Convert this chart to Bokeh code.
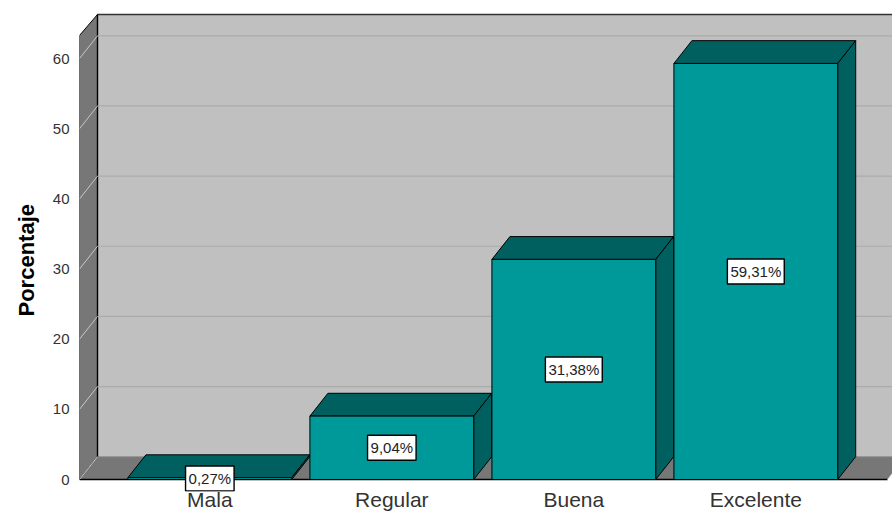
from bokeh.embed import file_html
from bokeh.resources import INLINE
from bokeh.models import FixedTicker, Label, Range1d, Title
from bokeh.plotting import figure

categories = ["Mala", "Regular", "Buena", "Excelente"]
percentages = [0.27, 9.04, 31.38, 59.31]
percent_labels = ["0,27%", "9,04%", "31,38%", "59,31%"]
y_ticks = [0, 10, 20, 30, 40, 50, 60]

BAR_WIDTH = 0.90
DEPTH_X = 18 / 182      # oblique depth in category units
DEPTH_Y = 3.25          # oblique depth in percentage units
Y_TOP = 63.3            # top of the front plane of the box
Y_BACK_TOP = 66.29      # top of the back wall
X_LEFT = -0.716
X_RIGHT = 3.751
X_FLOOR_END = 3.724

WALL = "#C0C0C0"
SIDE = "#777777"
TEAL = "#009999"
TEAL_DARK = "#006060"

# The frame reaches a little below zero so the lowest value box can overhang the floor
p = figure(
    width=892, height=511, frame_width=813, frame_height=481,
    output_backend="svg", toolbar_location=None,
    x_range=Range1d(X_LEFT, X_RIGHT), y_range=Range1d(-1.71, 66.86),
    min_border_left=79, min_border_right=0, min_border_top=10, min_border_bottom=0,
    outline_line_color=None,
)
p.grid.visible = False

# Back wall, with its top edge
p.patch([X_LEFT + DEPTH_X, X_RIGHT + 1, X_RIGHT + 1, X_LEFT + DEPTH_X],
        [DEPTH_Y, DEPTH_Y, Y_BACK_TOP, Y_BACK_TOP],
        fill_color=WALL, line_color=None)
p.line([X_LEFT + DEPTH_X, X_RIGHT + 1], [Y_BACK_TOP, Y_BACK_TOP],
       line_color="#333333", line_width=1.6)

# Left wall and floor
p.patch([X_LEFT, X_LEFT + DEPTH_X, X_LEFT + DEPTH_X, X_LEFT],
        [0, DEPTH_Y, Y_BACK_TOP, Y_TOP],
        fill_color=SIDE, line_color="black", line_width=1)
p.patch([X_LEFT, X_LEFT + DEPTH_X, X_FLOOR_END + DEPTH_X, X_FLOOR_END],
        [0, DEPTH_Y, DEPTH_Y, 0],
        fill_color=SIDE, line_color=None)
p.line([X_LEFT + DEPTH_X, X_RIGHT + 1], [DEPTH_Y, DEPTH_Y], line_color="#8F8F8F", line_width=1)
p.line([X_LEFT + DEPTH_X, X_LEFT + DEPTH_X], [Y_BACK_TOP, DEPTH_Y], line_color="black", line_width=1.4)
p.line([X_LEFT, X_FLOOR_END], [0, 0], line_color="black", line_width=1.4)
p.line([X_FLOOR_END, X_FLOOR_END + DEPTH_X], [0, DEPTH_Y], line_color="#DDDDDD", line_width=1)

# Gridlines on the back wall and their diagonals across the left wall
for tick in y_ticks:
    p.line([X_LEFT, X_LEFT + DEPTH_X], [tick, tick + DEPTH_Y], line_color="#C8C8C8", line_width=1)
for tick in y_ticks[1:]:
    p.line([X_LEFT + DEPTH_X, X_RIGHT + 1], [tick + DEPTH_Y, tick + DEPTH_Y],
           line_color="#ABABAB", line_width=1.2)

# Oblique bars: top and side faces first, then the front face
for i, v in enumerate(percentages):
    x0, x1 = i - BAR_WIDTH / 2, i + BAR_WIDTH / 2
    p.patch([x0, x0 + DEPTH_X, x1 + DEPTH_X, x1], [v, v + DEPTH_Y, v + DEPTH_Y, v],
            fill_color=TEAL_DARK, line_color="black", line_width=1)
    p.patch([x1, x1 + DEPTH_X, x1 + DEPTH_X, x1], [0, DEPTH_Y, v + DEPTH_Y, v],
            fill_color=TEAL_DARK, line_color="black", line_width=1)
    p.quad(left=x0, right=x1, bottom=0, top=v, fill_color=TEAL, line_color="black", line_width=1)

# Value boxes at the middle of each bar
for i, (v, text) in enumerate(zip(percentages, percent_labels)):
    p.add_layout(Label(
        x=i, y=v / 2, text=text,
        text_font="Liberation Sans", text_font_size="15px", text_color="#222222",
        text_align="center", text_baseline="middle", padding=(3, 4),
        background_fill_color="white", border_line_color="black", border_line_width=1.4,
    ))

# Axis title set in the left panel, offset so it centres on the height of the box
p.add_layout(Title(
    text="Porcentaje", align="left", offset=175, standoff=22,
    text_font="Liberation Sans", text_font_style="bold", text_font_size="22px",
    text_color="black",
), "left")

p.yaxis.ticker = FixedTicker(ticks=y_ticks)
p.yaxis.axis_line_color = None
p.yaxis.major_tick_line_color = None
p.yaxis.major_tick_out = 0
p.yaxis.minor_tick_line_color = None
p.yaxis.minor_tick_out = 0
p.yaxis.major_label_standoff = 10
p.yaxis.major_label_text_font = "Liberation Sans"
p.yaxis.major_label_text_font_size = "15px"
p.yaxis.major_label_text_color = "#333333"

p.xaxis.ticker = FixedTicker(ticks=list(range(len(categories))))
p.xaxis.major_label_overrides = dict(enumerate(categories))
p.xaxis.axis_line_color = None
p.xaxis.major_tick_line_color = None
p.xaxis.major_tick_out = 0
p.xaxis.minor_tick_line_color = None
p.xaxis.minor_tick_out = 0
p.xaxis.major_label_standoff = -4
p.xaxis.major_label_text_font = "Liberation Sans"
p.xaxis.major_label_text_font_size = "21px"
p.xaxis.major_label_text_color = "#333333"

open("out.html", "w").write(file_html(p, INLINE))
